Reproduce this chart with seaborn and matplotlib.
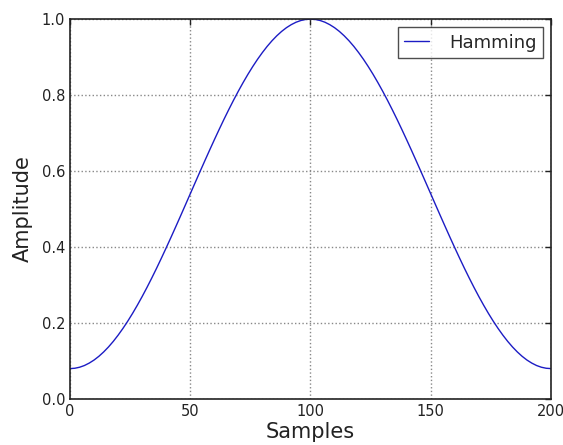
import matplotlib
matplotlib.use("Agg")
import matplotlib.pyplot as plt
import seaborn as sns
import pandas as pd

# Hamming window values, every 2 samples
samples = list(range(0, 201, 2))
amplitude = [
    0.0800, 0.0809, 0.0836, 0.0881, 0.0945, 0.1025, 0.1123, 0.1238, 0.1369, 0.1516,
    0.1679, 0.1856, 0.2047, 0.2251, 0.2468, 0.2696, 0.2935, 0.3184, 0.3441, 0.3707,
    0.3979, 0.4256, 0.4538, 0.4823, 0.5111, 0.5400, 0.5689, 0.5977, 0.6262, 0.6544,
    0.6821, 0.7093, 0.7359, 0.7616, 0.7865, 0.8104, 0.8332, 0.8549, 0.8753, 0.8944,
    0.9121, 0.9284, 0.9431, 0.9562, 0.9677, 0.9775, 0.9855, 0.9919, 0.9964, 0.9991,
    1.0000,
    0.9991, 0.9964, 0.9919, 0.9855, 0.9775, 0.9677, 0.9562, 0.9431, 0.9284, 0.9121,
    0.8944, 0.8753, 0.8549, 0.8332, 0.8104, 0.7865, 0.7616, 0.7359, 0.7093, 0.6821,
    0.6544, 0.6262, 0.5977, 0.5689, 0.5400, 0.5111, 0.4823, 0.4538, 0.4256, 0.3979,
    0.3707, 0.3441, 0.3184, 0.2935, 0.2696, 0.2468, 0.2251, 0.2047, 0.1856, 0.1679,
    0.1516, 0.1369, 0.1238, 0.1123, 0.1025, 0.0945, 0.0881, 0.0836, 0.0809, 0.0800,
]
x_ticks = [0, 50, 100, 150, 200]
y_ticks = [0.0, 0.2, 0.4, 0.6, 0.8, 1.0]

df = pd.DataFrame({"Samples": samples, "Amplitude": amplitude})

sns.set_style("white")
plt.rcParams["font.family"] = ["DejaVu Sans"]

fig = plt.figure(figsize=(5.63, 4.45), dpi=100)
ax = fig.add_axes([0.1243, 0.1034, 0.8544, 0.8536])

sns.lineplot(data=df, x="Samples", y="Amplitude", ax=ax, color="#1c1cc4",
             linewidth=1.0, label="Hamming")

ax.set_xlim(0, 200)
ax.set_ylim(0, 1.0)
ax.set_xticks(x_ticks)
ax.set_yticks(y_ticks)
ax.set_yticklabels([f"{v:.1f}" for v in y_ticks])
ax.tick_params(direction="in", length=4, width=1, labelsize=10.5,
               top=True, right=True, colors="#222222")
ax.grid(True, linestyle=":", color="#888888", linewidth=1.0)
for s in ax.spines.values():
    s.set_color("#222222")
    s.set_linewidth(1.2)

ax.set_xlabel("Samples", fontsize=15, color="#222222", labelpad=2)
ax.set_ylabel("Amplitude", fontsize=15, color="#222222", labelpad=6)

leg = ax.legend(loc="upper right", fontsize=13, fancybox=False,
                frameon=True, handlelength=1.4, handletextpad=1.1,
                borderaxespad=0.45, borderpad=0.35)
leg.get_frame().set_edgecolor("#222222")
leg.get_frame().set_linewidth(1.0)

fig.savefig("out.png", dpi=100)
